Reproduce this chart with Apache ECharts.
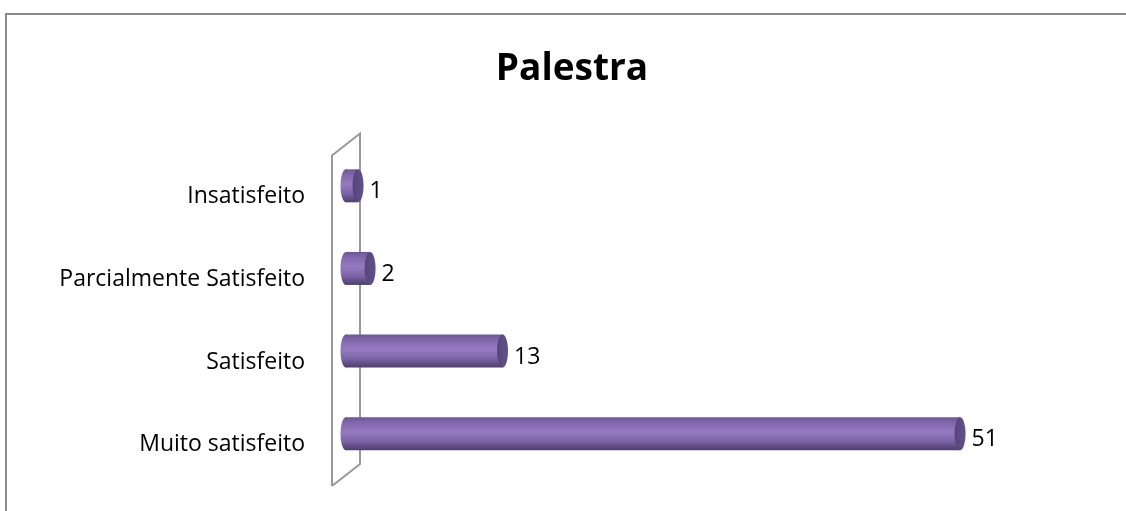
<!DOCTYPE html>
<html>
<head>
<meta charset="utf-8">
<style>
html,body{margin:0;padding:0;background:#fff;}
#chart{width:1126px;height:511px;}
</style>
<script src="https://cdn.jsdelivr.net/npm/echarts@6/dist/echarts.min.js"></script>
</head>
<body>
<div id="chart"></div>
<script>
var titleText = 'Palestra';
var categories = ['Muito satisfeito', 'Satisfeito', 'Parcialmente Satisfeito', 'Insatisfeito'];
var values = [51, 13, 2, 1];

var FONT = '"Open Sans", "DejaVu Sans", sans-serif';
var chart = echarts.init(document.getElementById('chart'), null, {renderer: 'canvas'});

var DX = 14, DY = -11;   // 3D depth offset of bars (half wall depth)
var BAR_H = 33, RX = 5.5;

function renderWall(params, api) {
  var cs = params.coordSys;
  var x0 = cs.x, y0 = cs.y, h = cs.height;
  var bx = 2 * DX, by = 2 * DY;
  return {
    type: 'polyline',
    z2: 0,
    shape: {points: [
      [x0, y0 + h], [x0, y0], [x0 + bx, y0 + by], [x0 + bx, y0 + h + by], [x0, y0 + h]
    ]},
    style: {stroke: '#999999', lineWidth: 2, fill: null},
    silent: true
  };
}

function renderBar(params, api) {
  var v = api.value(0), ci = api.value(1);
  var p0 = api.coord([0, ci]);
  var p1 = api.coord([v, ci]);
  var cy = p0[1] + DY;
  var xs = p0[0] + DX, xe = p1[0] + DX;
  var grad = new echarts.graphic.LinearGradient(0, 0, 0, 1, [
    {offset: 0, color: '#6c5896'},
    {offset: 0.18, color: '#8368ad'},
    {offset: 0.45, color: '#957abf'},
    {offset: 0.72, color: '#7d64a8'},
    {offset: 1, color: '#4d3e6c'}
  ]);
  var capGrad = new echarts.graphic.LinearGradient(0, 0, 1, 0, [
    {offset: 0, color: '#574679'},
    {offset: 1, color: '#62508a'}
  ]);
  return {
    type: 'group',
    children: [
      {type: 'ellipse', shape: {cx: xs, cy: cy, rx: RX, ry: BAR_H / 2}, style: {fill: grad}},
      {type: 'rect', shape: {x: xs, y: cy - BAR_H / 2, width: Math.max(xe - xs, 0), height: BAR_H}, style: {fill: grad}},
      {type: 'ellipse', shape: {cx: xe, cy: cy, rx: RX, ry: BAR_H / 2}, style: {fill: capGrad}},
      {type: 'text', style: {
        text: String(v), x: xe + RX + 6, y: cy + 6,
        verticalAlign: 'middle', align: 'left',
        font: '23px ' + FONT, fill: '#000'
      }}
    ]
  };
}

chart.setOption({
  animation: false,
  backgroundColor: '#fff',
  title: {
    text: titleText,
    left: 567, top: 46, textAlign: 'center',
    textStyle: {fontFamily: FONT, fontWeight: 'bold', fontSize: 37, color: '#000'}
  },
  grid: {left: 332, right: 71.6, top: 155.5, bottom: 25, containLabel: false},
  xAxis: {
    type: 'value', min: 0, max: 60,
    show: false
  },
  yAxis: {
    type: 'category', data: categories,
    axisLine: {show: false}, axisTick: {show: false}, splitLine: {show: false},
    axisLabel: {margin: 27, fontFamily: FONT, fontSize: 23, color: '#000'}
  },
  graphic: [{
    type: 'rect', shape: {x: 6, y: 14, width: 1200, height: 600},
    style: {fill: null, stroke: '#8a8a8a', lineWidth: 2}, silent: true, z: -10
  }],
  series: [
    {type: 'custom', renderItem: renderWall, data: [[0, 0]], z: 1, silent: true},
    {type: 'custom', renderItem: renderBar, z: 2,
     encode: {x: 0, y: 1},
     data: values.map(function (v, i) { return [v, i]; })}
  ]
});
</script>
</body>
</html>
